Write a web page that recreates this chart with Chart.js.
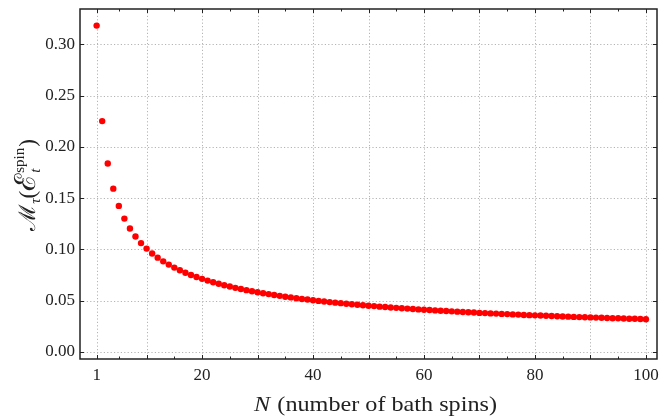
<!DOCTYPE html>
<html><head><meta charset="utf-8">
<script src="https://cdn.jsdelivr.net/npm/chart.js@4"></script>
<style>html,body{margin:0;padding:0;background:#fff}#c{display:block}</style>
</head><body>
<canvas id="c" width="670" height="416"></canvas>
<script>
const categories = [1,2,3,4,5,6,7,8,9,10,11,12,13,14,15,16,17,18,19,20,21,22,23,24,25,26,27,28,29,30,31,32,33,34,35,36,37,38,39,40,41,42,43,44,45,46,47,48,49,50,51,52,53,54,55,56,57,58,59,60,61,62,63,64,65,66,67,68,69,70,71,72,73,74,75,76,77,78,79,80,81,82,83,84,85,86,87,88,89,90,91,92,93,94,95,96,97,98,99,100];
const values = [0.3183,0.2251,0.1838,0.1592,0.1424,0.1300,0.1203,0.1125,0.1061,0.1007,
0.0960,0.0919,0.0883,0.0851,0.0822,0.0796,0.0772,0.0750,0.0730,0.0712,
0.0695,0.0679,0.0664,0.0650,0.0637,0.0624,0.0613,0.0602,0.0591,0.0581,
0.0572,0.0563,0.0554,0.0546,0.0538,0.0531,0.0523,0.0516,0.0510,0.0503,
0.0497,0.0491,0.0485,0.0480,0.0475,0.0469,0.0464,0.0459,0.0455,0.0450,
0.0446,0.0441,0.0437,0.0433,0.0429,0.0425,0.0422,0.0418,0.0414,0.0411,
0.0408,0.0404,0.0401,0.0398,0.0395,0.0392,0.0389,0.0386,0.0383,0.0380,
0.0378,0.0375,0.0373,0.0370,0.0368,0.0365,0.0363,0.0360,0.0358,0.0356,
0.0354,0.0352,0.0349,0.0347,0.0345,0.0343,0.0341,0.0339,0.0337,0.0336,
0.0334,0.0332,0.0330,0.0328,0.0327,0.0325,0.0323,0.0322,0.0320,0.0318];
const xTickLabels = [1,20,40,60,80,100];
const xGridValues = [1,10,20,30,40,50,60,70,80,90,100];
const xMinorValues = [5,15,25,35,45,55,65,75,85,95];
const yTickLabels = [0,0.05,0.10,0.15,0.20,0.25,0.30];

const SERIF = '"Liberation Serif", "DejaVu Serif", serif';
const INK = '#222';

const framePlugin = {
  id: 'frame',
  beforeDatasetsDraw(chart) {
    const {ctx, chartArea: a, scales: {x, y}} = chart;
    ctx.save();
    ctx.strokeStyle = '#b4b4b4';
    ctx.lineWidth = 1;
    ctx.setLineDash([1.2, 2.2]);
    xGridValues.forEach(v => {
      const px = Math.round(x.getPixelForValue(v)) + 0.5;
      ctx.beginPath(); ctx.moveTo(px, a.top); ctx.lineTo(px, a.bottom); ctx.stroke();
    });
    yTickLabels.forEach(v => {
      const py = Math.round(y.getPixelForValue(v)) + 0.5;
      ctx.beginPath(); ctx.moveTo(a.left, py); ctx.lineTo(a.right, py); ctx.stroke();
    });
    ctx.restore();
  },
  afterDatasetsDraw(chart) {
    const {ctx, chartArea: a, scales: {x, y}} = chart;
    ctx.save();
    ctx.strokeStyle = INK;
    ctx.lineWidth = 1;
    const tick = (x1, y1, x2, y2) => { ctx.beginPath(); ctx.moveTo(x1, y1); ctx.lineTo(x2, y2); ctx.stroke(); };
    xGridValues.forEach(v => {
      const px = Math.round(x.getPixelForValue(v)) + 0.5;
      tick(px, a.bottom, px, a.bottom - 4);
      tick(px, a.top, px, a.top + 4);
    });
    xMinorValues.forEach(v => {
      const px = Math.round(x.getPixelForValue(v)) + 0.5;
      tick(px, a.bottom, px, a.bottom - 2.5);
      tick(px, a.top, px, a.top + 2.5);
    });
    yTickLabels.forEach(v => {
      const py = Math.round(y.getPixelForValue(v)) + 0.5;
      tick(a.left, py, a.left + 4, py);
      tick(a.right, py, a.right - 4, py);
    });
    ctx.lineWidth = 1.5;
    ctx.strokeRect(a.left, a.top, a.right - a.left, a.bottom - a.top);

    // x axis title (stretched horizontally to mimic the wider original face)
    ctx.fillStyle = INK;
    ctx.textBaseline = 'alphabetic';
    const f1 = 'italic 21px ' + SERIF, f2 = '21px ' + SERIF;
    ctx.font = f1; const w1 = ctx.measureText('N').width;
    ctx.font = f2; const rest = ' (number of bath spins)'; const w2 = ctx.measureText(rest).width;
    const sxScale = 243 / (w1 + w2 + 1);
    ctx.save();
    ctx.translate(375.5 - 243 / 2, 411);
    ctx.scale(sxScale, 1);
    ctx.font = f1; ctx.fillText('N', 0, 0);
    ctx.font = f2; ctx.fillText(rest, w1 + 1, 0);
    ctx.restore();

    // y axis title (rotated)
    ctx.translate(35, 185);
    ctx.rotate(-Math.PI / 2);
    const big = '23px ' + SERIF, bigE = '29px ' + SERIF, sub = '15px ' + SERIF, subI = 'italic 15px ' + SERIF;
    const parts = [
      {t: '\u2133', f: big, dy: 0},
      {t: '\u03C4', f: subI, dy: 5},
      {t: '(', f: big, dy: 0},
      {t: '\u2130', f: bigE, dy: 0},
      {stack: true},
      {t: ')', f: big, dy: 0}
    ];
    ctx.font = subI; const wt = ctx.measureText('t').width;
    ctx.font = sub; const ws = ctx.measureText('spin').width;
    const stackW = Math.max(wt, ws) + 2;
    let total = 0;
    parts.forEach(p => { if (p.stack) { p.w = stackW; } else { ctx.font = p.f; p.w = ctx.measureText(p.t).width; } total += p.w; });
    let cx = -total / 2;
    parts.forEach(p => {
      if (p.stack) {
        ctx.font = sub; ctx.fillText('spin', cx + 1, -11);
        ctx.font = subI; ctx.fillText('t', cx + 1, 5);
      } else {
        ctx.font = p.f; ctx.fillText(p.t, cx, p.dy);
      }
      cx += p.w;
    });
    ctx.restore();
  }
};

new Chart(document.getElementById('c'), {
  type: 'scatter',
  data: {
    datasets: [{
      data: categories.map((n, i) => ({x: n, y: values[i]})),
      backgroundColor: 'rgb(255,0,0)',
      borderColor: 'rgb(255,0,0)',
      borderWidth: 0,
      pointRadius: 3.2,
      pointHoverRadius: 3.2
    }]
  },
  options: {
    responsive: false,
    animation: false,
    devicePixelRatio: 1,
    layout: {padding: {top: 9, right: 13, left: 0, bottom: 0}},
    plugins: {legend: {display: false}, tooltip: {enabled: false}},
    scales: {
      x: {
        type: 'linear', min: -2, max: 102,
        afterBuildTicks: s => { s.ticks = xTickLabels.map(v => ({value: v})); },
        afterFit: s => { s.height = 57; s.paddingLeft = 0; s.paddingRight = 0; },
        grid: {display: false, drawTicks: false},
        border: {display: false},
        ticks: {color: INK, font: {family: SERIF, size: 17}, padding: 6, maxRotation: 0, autoSkip: false, callback: v => String(v)}
      },
      y: {
        type: 'linear', min: -0.007, max: 0.3345,
        afterBuildTicks: s => { s.ticks = yTickLabels.map(v => ({value: v})); },
        afterFit: s => { s.width = 80; s.paddingTop = 0; s.paddingBottom = 0; },
        grid: {display: false, drawTicks: false},
        border: {display: false},
        ticks: {color: INK, font: {family: SERIF, size: 17}, padding: 5, autoSkip: false, callback: v => Number(v).toFixed(2)}
      }
    }
  },
  plugins: [framePlugin]
});
</script>
</body></html>
